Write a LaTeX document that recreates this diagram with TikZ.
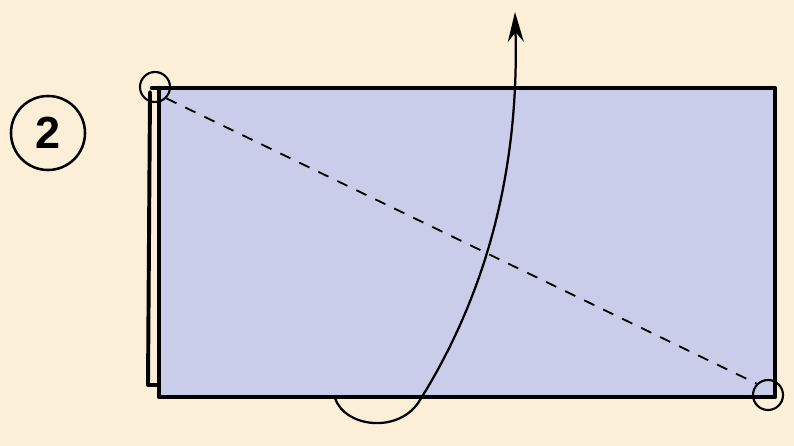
\documentclass[tikz,border=0pt]{standalone}
\usepackage{fontspec}
\setsansfont{Liberation Sans}
\usepackage{tikz}
\usetikzlibrary{arrows.meta,positioning,calc}

\definecolor{paper}{HTML}{FCEFD8}
\definecolor{sheet}{HTML}{C9CDEA}

\tikzset{
  edge/.style={line width=3.2pt,line cap=round,line join=round},
  mark circle/.style={draw,line width=1.5pt,circle,minimum size=0.75cm,inner sep=0pt},
}

\begin{document}
\begin{tikzpicture}[x=0.025cm,y=-0.025cm]
\fill[paper] (0,0) rectangle (794,446);
\useasboundingbox (0,0) rectangle (794,446);

% step number
\node[draw,circle,line width=1.8pt,minimum size=1.85cm,inner sep=0pt,
      font=\sffamily\bfseries\fontsize{32}{32}\selectfont] (num) at (48,133) {2};

% sheet and the folded layer behind it
\coordinate (tl) at (159,88);
\coordinate (br) at (775,397);
\fill[sheet] (tl) rectangle (br);
\draw[edge,line width=2.8pt] (150,92) -- (148,385) -- (159,385);
\draw[edge] (152,88) -- (775,88) -- (br) -- (159,397) -- (tl);

% corners to bring together
\node[mark circle] (c1) at (155,87) {};
\node[mark circle] (c2) at (768,395) {};

% fold line
\draw[line width=1.3pt,dash pattern=on 8pt off 7pt] (c1.south east) -- (c2.north west);

% turn over
\draw[line width=1.6pt,-{Stealth[length=0.75cm,width=0.4cm]}]
  (335,398) .. controls (345,428) and (400,434) .. (420,400)
  .. controls (470,320) and (520,200) .. (515,12);
\end{tikzpicture}
\end{document}
